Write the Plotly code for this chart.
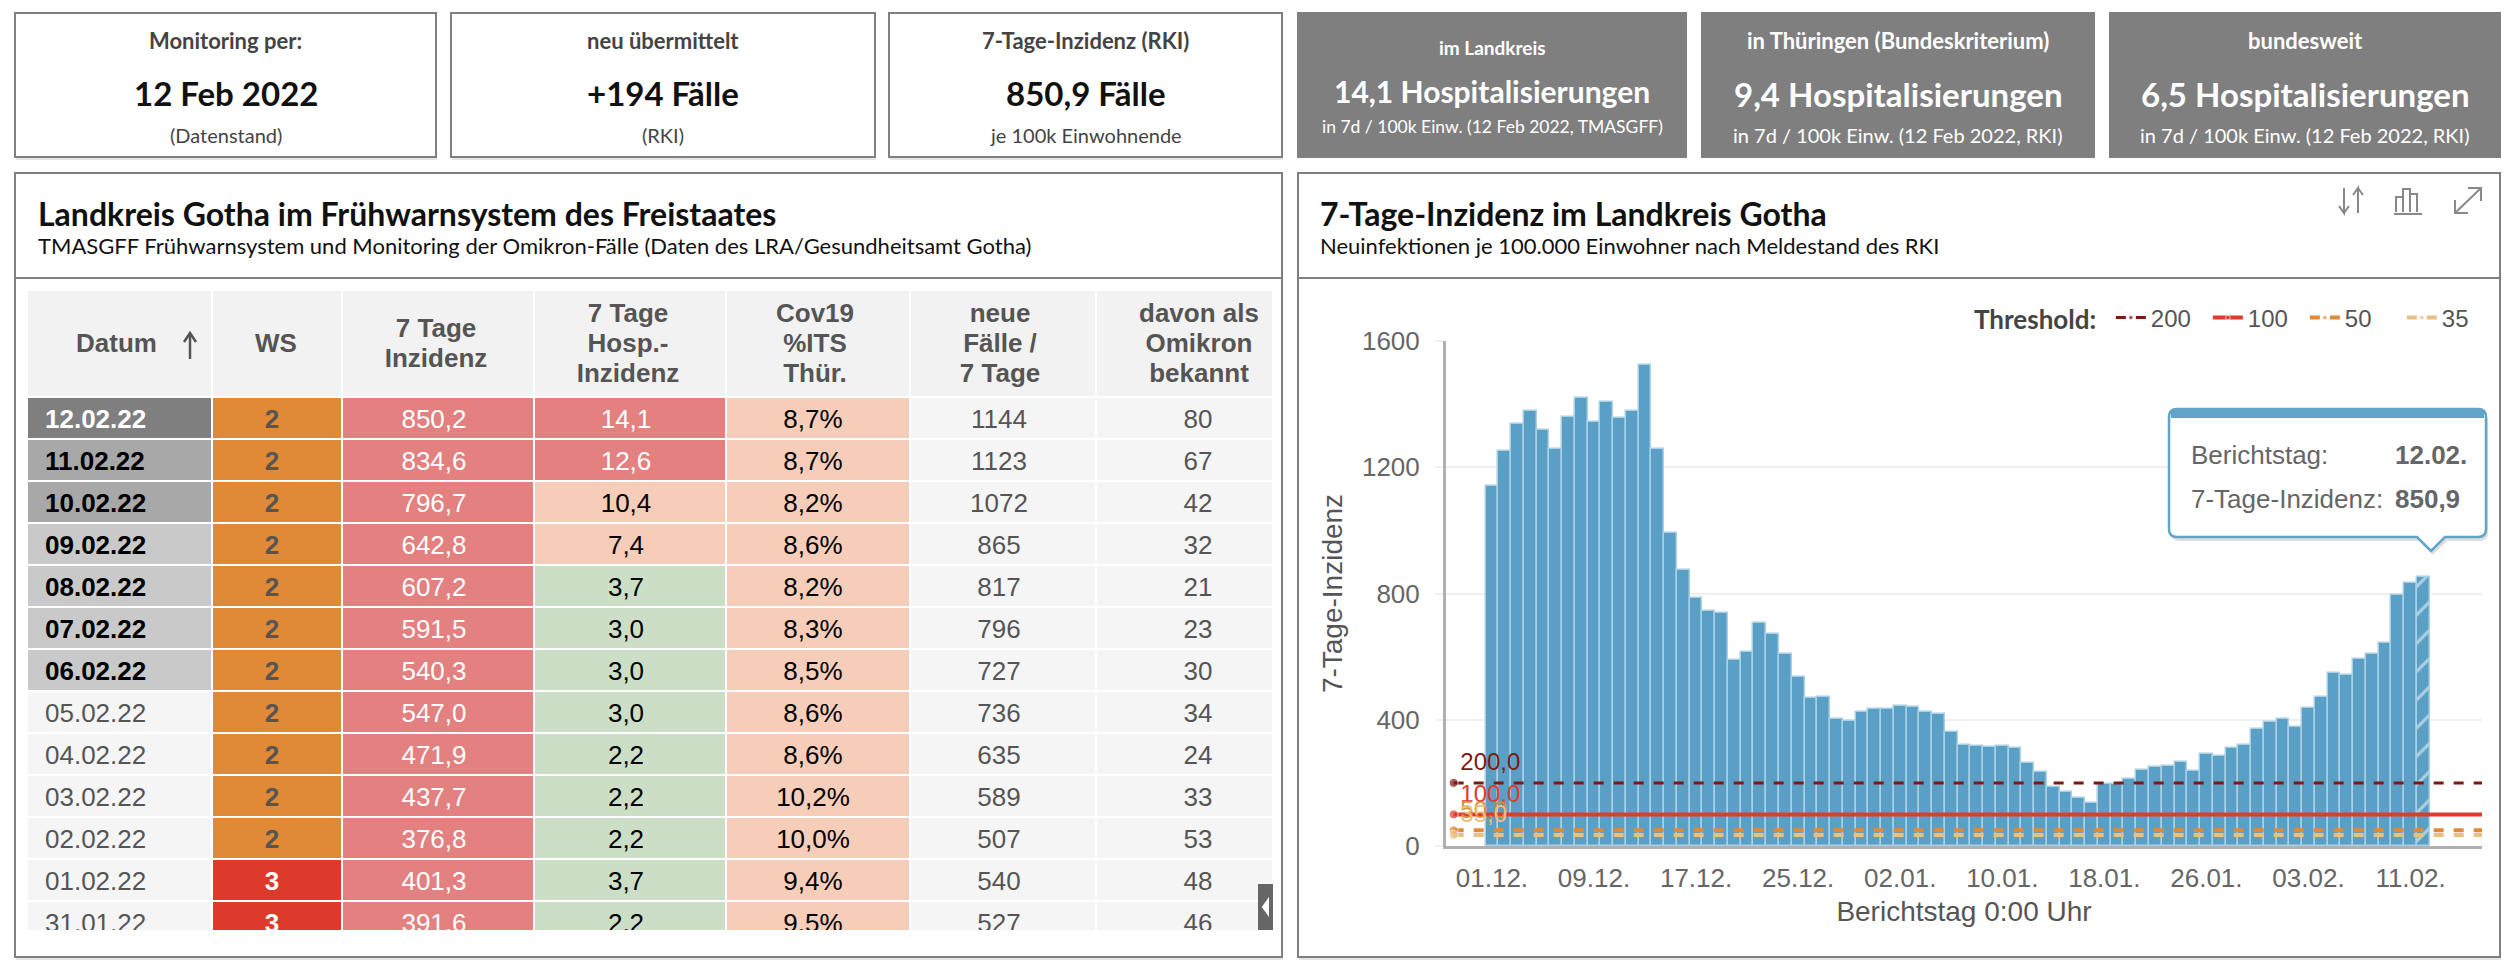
import pandas as pd
import plotly.graph_objects as go

W, H = 2512, 965

# kpi cards
card_titles = ["Monitoring per:", "neu übermittelt", "7-Tage-Inzidenz (RKI)",
               "im Landkreis", "in Thüringen (Bundeskriterium)", "bundesweit"]
card_values = ["12 Feb 2022", "+194 Fälle", "850,9 Fälle",
               "14,1 Hospitalisierungen", "9,4 Hospitalisierungen", "6,5 Hospitalisierungen"]
card_notes = ["(Datenstand)", "(RKI)", "je 100k Einwohnende",
              "in 7d / 100k Einw. (12 Feb 2022, TMASGFF)",
              "in 7d / 100k Einw. (12 Feb 2022, RKI)",
              "in 7d / 100k Einw. (12 Feb 2022, RKI)"]

# table columns
datum = ["12.02.22", "11.02.22", "10.02.22", "09.02.22", "08.02.22", "07.02.22", "06.02.22",
         "05.02.22", "04.02.22", "03.02.22", "02.02.22", "01.02.22", "31.01.22"]
ws = ["2", "2", "2", "2", "2", "2", "2", "2", "2", "2", "2", "3", "3"]
inzidenz = ["850,2", "834,6", "796,7", "642,8", "607,2", "591,5", "540,3",
            "547,0", "471,9", "437,7", "376,8", "401,3", "391,6"]
hosp = ["14,1", "12,6", "10,4", "7,4", "3,7", "3,0", "3,0", "3,0", "2,2", "2,2", "2,2", "3,7", "2,2"]
its = ["8,7%", "8,7%", "8,2%", "8,6%", "8,2%", "8,3%", "8,5%", "8,6%", "8,6%", "10,2%", "10,0%", "9,4%", "9,5%"]
faelle = ["1144", "1123", "1072", "865", "817", "796", "727", "736", "635", "589", "507", "540", "527"]
omikron = ["80", "67", "42", "32", "21", "23", "30", "34", "24", "33", "53", "48", "46"]
header_lines = [["Datum"], ["WS"], ["7 Tage", "Inzidenz"], ["7 Tage", "Hosp.-", "Inzidenz"],
                ["Cov19", "%ITS", "Thür."], ["neue", "Fälle /", "7 Tage"], ["davon als", "Omikron", "bekannt"]]

# 7-Tage-Inzidenz per Berichtstag, 01.12.21 to 12.02.22
incidence = [1140, 1253, 1337, 1378, 1318, 1257, 1359, 1418, 1344, 1407,
             1356, 1378, 1525, 1257, 992, 876, 786, 743, 738, 589,
             615, 706, 671, 607, 537, 468, 473, 401, 396, 423,
             433, 434, 445, 441, 424, 419, 361, 320, 317, 314,
             318, 309, 263, 236, 187, 170, 151, 135, 198, 195,
             213, 242, 249, 254, 267, 238, 291, 284, 309, 321,
             371, 391.6, 401.3, 376.8, 437.7, 471.9, 547.0, 540.3, 591.5, 607.2,
             642.8, 796.7, 834.6, 850.9]
report_days = pd.date_range("2021-12-01", periods=len(incidence)).strftime("%Y-%m-%d").tolist()

thresholds = [200, 100, 50, 35]
threshold_labels = ["200,0", "100,0", "50,0", "35,0"]
threshold_colors = ["#7b1a12", "#e03a2d", "#e08a38", "#e8c080"]
threshold_dash = ["10px,10px", "solid", "10px,10px", "10px,10px"]
threshold_span = ["2021-11-28", "2022-02-18"]


def fx(x):
    return x / W


def fy(y):
    return 1 - y / H


def rect(x0, y0, x1, y1, fill="rgba(0,0,0,0)", line="rgba(0,0,0,0)", width=0, layer="below"):
    return dict(type="rect", xref="paper", yref="paper", x0=fx(x0), x1=fx(x1), y0=fy(y0), y1=fy(y1),
                fillcolor=fill, line=dict(color=line, width=width), layer=layer)


def path(points, color="#888888", width=2, fill=None, close=False):
    d = "M " + " L ".join(f"{fx(x):.5f},{fy(y):.5f}" for x, y in points) + (" Z" if close else "")
    return dict(type="path", xref="paper", yref="paper", path=d, line=dict(color=color, width=width),
                fillcolor=fill or "rgba(0,0,0,0)", layer="above")


def label(x, y, text, size, color="#222222", family="Lato", anchor="center"):
    return dict(xref="paper", yref="paper", x=fx(x), y=fy(y), text=text, showarrow=False,
                xanchor=anchor, yanchor="middle", font=dict(size=size, color=color, family=family))


shapes = []
annotations = []

# cards along the top
card_boxes = [(15, 436), (451, 875), (889, 1282), (1297, 1687), (1701, 2095), (2109, 2501)]
for i, (x0, x1) in enumerate(card_boxes):
    mid = (x0 + x1) / 2
    if i < 3:
        shapes.append(rect(x0 + 1, 15, x1 + 1, 160, fill="#e4e4e4"))
        shapes.append(rect(x0, 13, x1, 157, fill="white", line="#808080", width=2))
        annotations.append(label(mid, 41, f"<b>{card_titles[i]}</b>", 22, "#444444"))
        annotations.append(label(mid, 93, f"<b>{card_values[i]}</b>", 33, "#111111"))
        annotations.append(label(mid, 135, card_notes[i], 20, "#444444"))
    else:
        shapes.append(rect(x0, 12, x1, 158, fill="#7f7f7f"))
        first = i == 3
        annotations.append(label(mid, 48 if first else 41, f"<b>{card_titles[i]}</b>", 19 if first else 22, "white"))
        annotations.append(label(mid, 91 if first else 94, f"<b>{card_values[i]}</b>", 30 if first else 33, "white"))
        annotations.append(label(mid, 126 if first else 135, card_notes[i], 17.5 if first else 20, "white"))

# the two panels
for x0, x1 in [(15, 1282), (1298, 2500)]:
    shapes.append(rect(x0 + 1, 175, x1 + 1, 960, fill="#e4e4e4"))
    shapes.append(rect(x0, 173, x1, 957, fill="white", line="#808080", width=2))
    shapes.append(rect(x0, 277, x1, 279, fill="#808080"))

annotations.append(label(36, 213, "<b>Landkreis Gotha im Frühwarnsystem des Freistaates</b>", 32, "#111111", anchor="left"))
annotations.append(label(36, 245, "TMASGFF Frühwarnsystem und Monitoring der Omikron-Fälle (Daten des LRA/Gesundheitsamt Gotha)",
                         22, "#111111", anchor="left"))
annotations.append(label(1318, 213, "<b>7-Tage-Inzidenz im Landkreis Gotha</b>", 32, "#111111", anchor="left"))
annotations.append(label(1318, 245, "Neuinfektionen je 100.000 Einwohner nach Meldestand des RKI", 22, "#111111", anchor="left"))

# toolbar icons
shapes += [
    path([(2344, 188), (2344, 213), (2339, 206)]), path([(2344, 213), (2349, 206)]),
    path([(2358, 213), (2358, 188), (2353, 195)]), path([(2358, 188), (2363, 195)]),
    path([(2396, 212), (2396, 197), (2403, 197), (2403, 212)]),
    path([(2403, 212), (2403, 189), (2410, 189), (2410, 212)]),
    path([(2410, 212), (2410, 194), (2417, 194), (2417, 212)]),
    path([(2394, 214), (2422, 214)]),
    path([(2455, 213), (2481, 188)]),
    path([(2468, 188), (2481, 188), (2481, 201)]),
    path([(2455, 200), (2455, 213), (2468, 213)]),
]

# table, drawn as a heatmap of cells in pixel-sized axis units
HEAD_GREY = "#f2f2f2"
ROW = "#f5f5f5"
ORANGE = "#e08a38"
RED = "#de3a2b"
ROSE = "#e28180"
PEACH = "#f6cdb9"
GREEN = "#ccdfc6"
DARK = "#555555"
n = len(datum)
fill_colors = [
    ["#7f7f7f", "#a8a8a8", "#a8a8a8"] + ["#c9c9c9"] * 4 + [ROW] * 6,
    [ORANGE] * 11 + [RED] * 2,
    [ROSE] * n,
    [ROSE] * 2 + [PEACH] * 2 + [GREEN] * 9,
    [PEACH] * n,
    [ROW] * n,
    [ROW] * n,
]
font_colors = [
    ["white"] + ["#000000"] * 6 + [DARK] * 6,
    [DARK] * 11 + ["white"] * 2,
    ["white"] * n,
    ["white"] * 2 + ["#000000"] * 11,
    ["#000000"] * n,
    [DARK] * n,
    [DARK] * n,
]
TABLE_X0, TABLE_X1, TABLE_Y0, TABLE_Y1 = 27, 1273, 290, 930
HEAD_H, ROW_H = 107, 42
col_edges = [0, 185, 315, 507, 699, 883, 1069, 1246]
row_edges = [0, HEAD_H] + [HEAD_H + ROW_H * (k + 1) for k in range(n)]

palette = [HEAD_GREY, ROW, ORANGE, RED, ROSE, PEACH, GREEN, "#7f7f7f", "#a8a8a8", "#c9c9c9"]
colorscale = []
for i, c in enumerate(palette):
    colorscale += [[i / len(palette), c], [(i + 1) / len(palette), c]]
z = [[0.5] * 7] + [[palette.index(fill_colors[c][r]) + 0.5 for c in range(7)] for r in range(n)]

body_x = [18, 245, 407, 599, 786, 972, 1171]
head_x = [49, 249, 409, 601, 788, 973, 1172]
columns = [datum, ws, inzidenz, hosp, its, faelle, omikron]

body_xs, body_ys, body_text, body_colors, body_pos = [], [], [], [], []
for c, col in enumerate(columns):
    for r, val in enumerate(col):
        bold = c == 1 or (c == 0 and r < 7)
        body_xs.append(body_x[c])
        body_ys.append(HEAD_H + ROW_H * r + 24)
        body_text.append(f"<b>{val}</b>" if bold else val)
        body_colors.append(font_colors[c][r])
        body_pos.append("middle right" if c == 0 else "middle center")

head_xs, head_ys, head_text, head_pos = [], [], [], []
for c, lines in enumerate(header_lines):
    for k, line in enumerate(lines):
        head_xs.append(head_x[c])
        head_ys.append(55 + (k - (len(lines) - 1) / 2) * 30)
        head_text.append(f"<b>{line}</b>")
        head_pos.append("middle right" if c == 0 else "middle center")

# sort arrow next to Datum
shapes.append(path([(190, 359), (190, 334)], color=DARK, width=2.5))
shapes.append(path([(184, 342), (190, 333), (196, 342)], color=DARK, width=2.5))

# collapse tab at the table's edge
shapes.append(rect(1258, 884, 1273, 930, fill="#666666", layer="above"))
shapes.append(path([(1268, 900), (1263, 907), (1268, 914)], color="white", fill="white", close=True))

# tooltip box
box_x0, box_x1, box_y0, box_y1 = 2169, 2486, 409, 537
tip_x, tip_y = 2431, 551


def bubble(dx=0, dy=0):
    r = 8
    x0, x1, y0, y1 = box_x0 + dx, box_x1 + dx, box_y0 + dy, box_y1 + dy
    return (f"M {fx(x0 + r):.5f},{fy(y0):.5f} L {fx(x1 - r):.5f},{fy(y0):.5f} "
            f"Q {fx(x1):.5f},{fy(y0):.5f} {fx(x1):.5f},{fy(y0 + r):.5f} "
            f"L {fx(x1):.5f},{fy(y1 - r):.5f} Q {fx(x1):.5f},{fy(y1):.5f} {fx(x1 - r):.5f},{fy(y1):.5f} "
            f"L {fx(tip_x + 14 + dx):.5f},{fy(y1):.5f} L {fx(tip_x + dx):.5f},{fy(tip_y + dy):.5f} "
            f"L {fx(tip_x - 14 + dx):.5f},{fy(y1):.5f} "
            f"L {fx(x0 + r):.5f},{fy(y1):.5f} Q {fx(x0):.5f},{fy(y1):.5f} {fx(x0):.5f},{fy(y1 - r):.5f} "
            f"L {fx(x0):.5f},{fy(y0 + r):.5f} Q {fx(x0):.5f},{fy(y0):.5f} {fx(x0 + r):.5f},{fy(y0):.5f} Z")


shapes.append(dict(type="path", xref="paper", yref="paper", path=bubble(2, 4), fillcolor="rgba(0,0,0,0.13)",
                   line=dict(color="rgba(0,0,0,0)", width=0), layer="above"))
shapes.append(dict(type="path", xref="paper", yref="paper", path=bubble(), fillcolor="white",
                   line=dict(color="#62a3c8", width=2.5), layer="above"))
shapes.append(rect(box_x0 + 2, box_y0 + 1, box_x1 - 2, box_y0 + 9, fill="#62a3c8", layer="above"))
annotations.append(label(2189, 455, "Berichtstag:", 26, "#666666", "Liberation Sans", "left"))
annotations.append(label(2393, 455, "<b>12.02.</b>", 26, "#666666", "Liberation Sans", "left"))
annotations.append(label(2189, 499, "7-Tage-Inzidenz:", 26, "#666666", "Liberation Sans", "left"))
annotations.append(label(2393, 499, "<b>850,9</b>", 26, "#666666", "Liberation Sans", "left"))

fig = go.Figure()

fig.add_trace(go.Bar(
    x=report_days,
    y=incidence,
    showlegend=False,
    marker=dict(
        color="#5a9fc5",
        line=dict(color="#a9d0e3", width=1.5),
        pattern=dict(shape=[""] * (len(incidence) - 1) + ["/"], fgcolor="white", bgcolor="#5a9fc5",
                     size=20, solidity=0.16),
    ),
))

for t, lab, col, dash in zip(thresholds, threshold_labels, threshold_colors, threshold_dash):
    fig.add_trace(go.Scatter(
        x=threshold_span,
        y=[t, t],
        name=str(t),
        mode="lines+markers+text",
        text=[lab, ""],
        textposition="top right",
        textfont=dict(size=24, color=col, family="Liberation Sans"),
        line=dict(color=col, width=4 if t != 200 else 3, dash=dash),
        marker=dict(size=[9, 0], color=col),
    ))

fig.add_trace(go.Heatmap(
    x=col_edges,
    y=row_edges,
    z=z,
    xaxis="x2",
    yaxis="y2",
    zmin=0,
    zmax=len(palette),
    colorscale=colorscale,
    showscale=False,
    xgap=2,
    ygap=2,
    hoverinfo="skip",
))
fig.add_trace(go.Scatter(
    x=body_xs, y=body_ys, text=body_text, mode="text", xaxis="x2", yaxis="y2", showlegend=False,
    textposition=body_pos, textfont=dict(size=26, color=body_colors, family="Liberation Sans"),
))
fig.add_trace(go.Scatter(
    x=head_xs, y=head_ys, text=head_text, mode="text", xaxis="x2", yaxis="y2", showlegend=False,
    textposition=head_pos, textfont=dict(size=26, color=DARK, family="Liberation Sans"),
))

fig.update_layout(
    width=W,
    height=H,
    margin=dict(l=0, r=0, t=0, b=0, autoexpand=False),
    paper_bgcolor="white",
    plot_bgcolor="rgba(0,0,0,0)",
    bargap=0,
    font=dict(family="Liberation Sans", color="#666666"),
    shapes=shapes,
    annotations=annotations,
    legend=dict(
        orientation="h",
        x=fx(2499),
        xanchor="right",
        y=fy(318),
        yanchor="middle",
        title=dict(text="<b>Threshold:</b>\u00a0", side="left", font=dict(size=26, family="Lato", color="#444444")),
        font=dict(size=24, color="#555555"),
        itemwidth=30,
        entrywidth=52,
        entrywidthmode="pixels",
        bgcolor="rgba(0,0,0,0)",
    ),
    xaxis=dict(
        domain=[fx(1446), fx(2482)],
        anchor="y",
        type="date",
        range=["2021-11-27 09:36", "2022-02-16 14:24"],
        tick0="2021-12-01",
        dtick=8 * 86400000,
        tickformat="%d.%m.",
        tickfont=dict(size=26, color="#666666"),
        showgrid=False,
        showline=True,
        linecolor="#b0b0b0",
        linewidth=3,
        ticks="",
        ticklabelstandoff=7,
        title=dict(text="Berichtstag 0:00 Uhr", font=dict(size=28, color="#555555"), standoff=10),
    ),
    yaxis=dict(
        domain=[fy(846), fy(341)],
        anchor="x",
        range=[0, 1600],
        tickvals=[0, 400, 800, 1200, 1600],
        tickfont=dict(size=26, color="#666666"),
        gridcolor="#f0f0f0",
        gridwidth=2,
        zeroline=False,
        showline=True,
        linecolor="#b0b0b0",
        linewidth=3,
        ticks="outside",
        ticklen=8,
        tickwidth=2,
        tickcolor="#f0f0f0",
        ticklabelstandoff=10,
        title=dict(text="7-Tage-Inzidenz", font=dict(size=28, color="#555555"), standoff=12),
    ),
    xaxis2=dict(
        domain=[fx(TABLE_X0), fx(TABLE_X1)],
        anchor="y2",
        range=[0, TABLE_X1 - TABLE_X0],
        visible=False,
    ),
    yaxis2=dict(
        domain=[fy(TABLE_Y1), fy(TABLE_Y0)],
        anchor="x2",
        range=[TABLE_Y1 - TABLE_Y0, 0],
        visible=False,
    ),
)

fig.write_html("out.html", config={"displayModeBar": False},
               post_script="document.body.style.margin='0';document.body.style.overflow='hidden';")
